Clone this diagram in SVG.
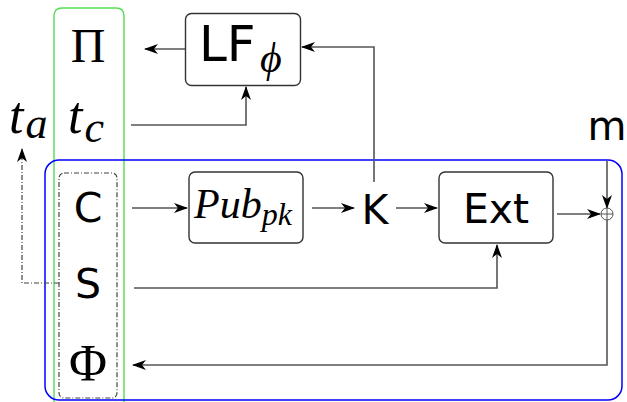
<svg xmlns="http://www.w3.org/2000/svg" width="627" height="402" viewBox="0 0 627 402">
<style>
.line{fill:none;stroke:#555;stroke-width:1.6}
.box{fill:#fff;stroke:#333;stroke-width:1.4}
.sans{font-family:"DejaVu Sans",sans-serif;fill:#000}
.serif{font-family:"Liberation Serif","DejaVu Serif",serif;fill:#000}
.it{font-style:italic}
.dd{fill:none;stroke:#444;stroke-width:1.2;stroke-dasharray:5 2 1 2}
</style>
<defs>
<marker id="ah" viewBox="0 0 14 10" refX="13" refY="5" markerWidth="14" markerHeight="10" markerUnits="userSpaceOnUse" orient="auto">
<path d="M0,0 L14,5 L0,10 L4,5 z" fill="#000"/>
</marker>
</defs>
<g id="green-frame"><path d="M54,402 V16 Q54,8 62,8 H116 Q124,8 124,16 V402" fill="none" stroke="#55dd55" stroke-width="1.4"/></g>
<g id="blue-frame"><rect x="45" y="160" width="577" height="240" rx="14" fill="none" stroke="#0000ff" stroke-width="1.5"/></g>
<g id="secret-box"><rect x="59" y="173" width="58" height="225" rx="5" class="dd"/></g>
<g id="connectors">
<path class="line" d="M185,49 H145" marker-end="url(#ah)"/>
<path class="line" d="M131,125 H246 V87" marker-end="url(#ah)"/>
<path class="line" d="M374,182 V47 H302" marker-end="url(#ah)"/>
<path class="line" d="M132,208 H187" marker-end="url(#ah)"/>
<path class="line" d="M312,208 H354" marker-end="url(#ah)"/>
<path class="line" d="M396,208 H437" marker-end="url(#ah)"/>
<path class="line" d="M557,214 H600" marker-end="url(#ah)"/>
<path class="line" d="M607,161 V208" marker-end="url(#ah)"/>
<path class="line" d="M607,220 V365 H133" marker-end="url(#ah)"/>
<path class="line" d="M134,288 H497 V245" marker-end="url(#ah)"/>
<path class="dd" d="M59,283 H22 V149" marker-end="url(#ah)"/>
</g>
<g id="xor"><circle cx="607" cy="214" r="6" fill="#fff" stroke="#555" stroke-width="1"/><path d="M601,214 H613 M607,208 V220" stroke="#555" stroke-width="1"/></g>
<g id="Pi"><text class="serif" x="88" y="62" font-size="48" text-anchor="middle">Π</text></g>
<g id="tc"><text class="serif it" x="68" y="133" font-size="52">t<tspan font-size="44" dy="9" dx="2">c</tspan></text></g>
<g id="ta"><text class="serif it" x="9" y="133" font-size="52">t<tspan font-size="44" dy="5" dx="2">a</tspan></text></g>
<g id="LF"><rect class="box" x="185.5" y="13.5" width="115" height="72" rx="6"/><text class="sans" x="199" y="61" font-size="50">LF</text><text class="serif it" x="260" y="72" font-size="42">ϕ</text></g>
<g id="C"><text class="sans" x="88" y="222" font-size="41" text-anchor="middle">C</text></g>
<g id="S"><text class="sans" x="88" y="298" font-size="41" text-anchor="middle">S</text></g>
<g id="Phi"><text class="serif" x="88" y="381" font-size="52" text-anchor="middle">Φ</text></g>
<g id="Pub"><rect class="box" x="189" y="172" width="114" height="71" rx="6"/><text class="serif it" x="194" y="218" font-size="42">Pub<tspan font-size="32" dy="7">pk</tspan></text></g>
<g id="K"><text class="sans" x="375" y="224" font-size="41" text-anchor="middle">K</text></g>
<g id="Ext"><rect class="box" x="439" y="172" width="114" height="71" rx="6"/><text class="sans" x="496" y="223" font-size="41" text-anchor="middle">Ext</text></g>
<g id="m"><text class="sans" x="607" y="140" font-size="40" text-anchor="middle">m</text></g>
</svg>
